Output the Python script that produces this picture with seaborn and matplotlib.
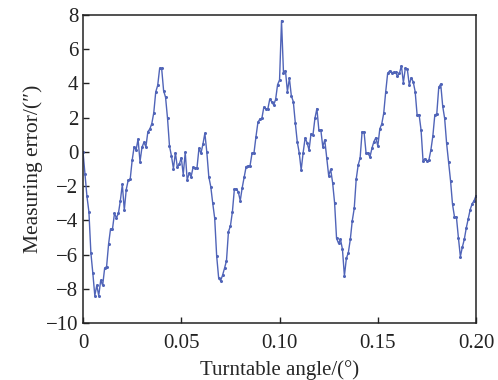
import numpy as np
import pandas as pd
import matplotlib
matplotlib.use("Agg")
import matplotlib.pyplot as plt
import seaborn as sns

sns.set_style("ticks")
plt.rcParams["font.family"] = ["Liberation Serif", "DejaVu Serif"]
plt.rcParams["mathtext.fontset"] = "stix"

# ------------------------------------------------
# DATA (step 0.001 deg)
# ------------------------------------------------
angle_step = 0.001
error_arcsec = [
    0.0, -1.3, -2.6, -3.5, -5.9, -7.1, -8.4, -7.8, -8.4, -7.5,
    -7.8, -6.8, -6.7, -5.4, -4.5, -4.5, -3.6, -3.85, -3.6, -2.85,
    -1.9, -3.4, -2.2, -1.65, -1.6, -0.5, 0.3, 0.1, 0.75, -0.57,
    0.27, 0.56, 0.3, 1.18, 1.34, 1.65, 2.29, 3.5, 3.89, 4.89,
    4.89, 3.58, 3.19, 1.96, 0.34, -0.24, -0.98, -0.05, -0.9, -0.71,
    -0.34, -1.33, -0.02, -1.64, -1.25, -1.45, -0.9, -0.96, -0.92, 0.21,
    -0.08, 0.44, 1.09, -0.02, -1.45, -2.03, -3.0, -3.88, -6.08, -7.35,
    -7.53, -7.21, -6.8, -6.36, -4.66, -4.33, -3.51, -2.19, -2.15, -2.34,
    -2.85, -2.09, -1.48, -0.86, -0.82, -0.8, -0.08, -0.05, 0.89, 1.73,
    1.92, 1.96, 2.61, 2.51, 2.49, 3.07, 2.94, 2.74, 3.07, 3.93,
    4.2, 7.67, 4.63, 4.75, 3.52, 4.3, 3.27, 2.94, 1.71, 0.6,
    -0.05, -1.06, -0.05, 0.81, 0.54, 0.11, 1.05, 0.99, 1.96, 2.53,
    1.28, 1.28, 0.3, 0.7, -0.34, -1.39, -1.02, -1.8, -2.97, -5.05,
    -5.34, -5.11, -5.69, -7.25, -6.22, -5.89, -5.11, -4.02, -3.3, -1.6,
    -0.77, -0.35, 1.18, 1.16, -0.05, -0.08, -0.3, 0.21, 0.6, 0.83,
    0.34, 1.34, 1.63, 2.26, 3.5, 4.59, 4.73, 4.63, 4.65, 4.65,
    4.44, 4.59, 5.04, 4.05, 4.89, 4.85, 3.91, 4.34, 4.1, 3.52,
    2.15, 2.18, 1.28, -0.51, -0.4, -0.53, -0.47, 0.11, 0.93, 2.16,
    2.22, 3.77, 3.97, 2.68, 1.96, 0.5, -0.57, -1.68, -3.06, -3.79,
    -3.82, -5.01, -6.12, -5.57, -5.11, -4.45, -3.9, -3.37, -3.03, -2.85,
    -2.55,
]
angle_deg = np.arange(len(error_arcsec)) * angle_step

x_ticks = [0, 0.05, 0.10, 0.15, 0.20]
x_tick_labels = ["0", "0.05", "0.10", "0.15", "0.20"]
y_ticks = [-10, -8, -6, -4, -2, 0, 2, 4, 6, 8]

df = pd.DataFrame({"angle": angle_deg, "error": error_arcsec})

# ------------------------------------------------
# PLOT
# ------------------------------------------------
fig = plt.figure(figsize=(4.98, 3.80), dpi=100)
ax = fig.add_axes([0.1667, 0.15, 0.7893, 0.8105])

sns.lineplot(data=df, x="angle", y="error", ax=ax, color="#5064b8",
             linewidth=1.0, marker="o", markersize=2.2,
             markeredgewidth=0, estimator=None)

ax.set_xlim(0, 0.20)
ax.set_ylim(-10, 8)
ax.set_xticks(x_ticks)
ax.set_xticklabels(x_tick_labels)
ax.set_yticks(y_ticks)
ax.tick_params(direction="in", length=4, width=1, labelsize=15,
               top=False, right=False, colors="#222222")
ax.tick_params(axis="x", pad=8)
ax.set_xlabel("Turntable angle/(°)", fontsize=15, labelpad=5)
ax.set_ylabel("Measuring error/(″)", fontsize=15.5, labelpad=2)
for s in ax.spines.values():
    s.set_linewidth(1.1)
    s.set_color("#222222")

fig.savefig("out.png", dpi=100)
